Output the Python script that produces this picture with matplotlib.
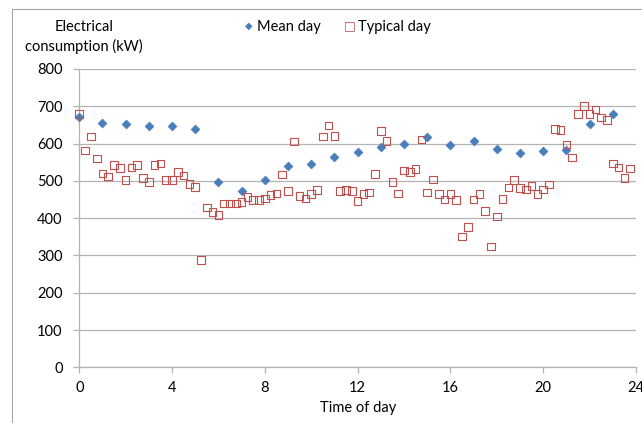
import numpy as np
import matplotlib.pyplot as plt
from matplotlib.patches import Rectangle

plt.rcParams['font.family'] = ['Lato', 'DejaVu Sans']

# mean day, hourly
mean_hours = list(range(24))
mean_kw = [670, 654, 652, 646, 646, 640, 497, 472, 503, 539, 544, 564,
           578, 591, 598, 618, 596, 607, 586, 576, 581, 583, 652, 679]

# typical day, every 15 min
typ_hours = [i * 0.25 for i in range(96)]
typ_kw = [679, 581, 619, 560, 520, 512, 542, 534, 503, 536, 543, 508,
          497, 542, 547, 503, 503, 524, 514, 491, 484, 288, 429, 416,
          409, 439, 439, 439, 444, 456, 449, 449, 453, 462, 466, 517,
          472, 606, 460, 453, 465, 475, 619, 648, 621, 472, 476, 472,
          446, 465, 469, 518, 633, 607, 497, 466, 528, 523, 531, 611,
          469, 504, 464, 450, 464, 448, 351, 377, 450, 464, 419, 324,
          404, 451, 482, 502, 481, 477, 487, 464, 477, 490, 639, 636,
          597, 563, 680, 701, 680, 691, 670, 663, 547, 536, 507, 533]

xticks = [0, 4, 8, 12, 16, 20, 24]
yticks = list(range(0, 900, 100))

fig = plt.figure(figsize=(6.42, 4.23), dpi=100)
# outer chart border (cropped at right / bottom)
fig.patches.append(Rectangle((11.7 / 642, -0.1), 1.2, 1 - 9.3 / 423 + 0.1,
                             transform=fig.transFigure, fill=False,
                             edgecolor='#a6a6a6', linewidth=0.8))

ax = fig.add_axes([79.3 / 642, 1 - 367.3 / 423, (636 - 79.3) / 642, (367.3 - 69) / 423])

ax.scatter(mean_hours, mean_kw, marker='D', s=22, color='#4a7ebb',
           edgecolors='#4a7ebb', linewidths=0.3, zorder=3, clip_on=False)
ax.scatter(typ_hours, typ_kw, marker='s', s=30, facecolors='none',
           edgecolors='#c0504d', linewidths=0.8, zorder=4, clip_on=False)

ax.set_xlim(0, 24)
ax.set_ylim(0, 800)
ax.set_xticks(xticks)
ax.set_yticks(yticks)
ax.yaxis.grid(True, color='#b3b3b3', linewidth=0.9)
ax.set_axisbelow(True)
for s in ['top', 'right']:
    ax.spines[s].set_visible(False)
for s in ['left', 'bottom']:
    ax.spines[s].set_color('#b3b3b3')
    ax.spines[s].set_linewidth(0.9)
ax.tick_params(axis='both', colors='#b3b3b3', labelcolor='black',
               labelsize=10.5, length=4, width=0.9)
ax.tick_params(axis='x', pad=6)
ax.tick_params(axis='y', pad=8)

ax.set_xlabel('Time of day', fontsize=10.5, labelpad=4)
fig.text(84 / 642, 1 - 27 / 423, 'Electrical', ha='center', va='center', fontsize=10.5)
fig.text(84 / 642, 1 - 46 / 423, 'consumption (kW)', ha='center', va='center', fontsize=10.5)

# legend row
fig.text(249 / 642, 1 - 26 / 423, '\u25C6', ha='center', va='center',
         fontsize=7, color='#4a7ebb', family=['DejaVu Sans'])
fig.text(257 / 642, 1 - 27 / 423, 'Mean day', ha='left', va='center', fontsize=10.5)
fig.text(350 / 642, 1 - 26 / 423, '\u25A1', ha='center', va='center',
         fontsize=9, color='#c0504d', family=['DejaVu Sans'])
fig.text(358 / 642, 1 - 27 / 423, 'Typical day', ha='left', va='center', fontsize=10.5)

fig.savefig('out.png', dpi=100)
